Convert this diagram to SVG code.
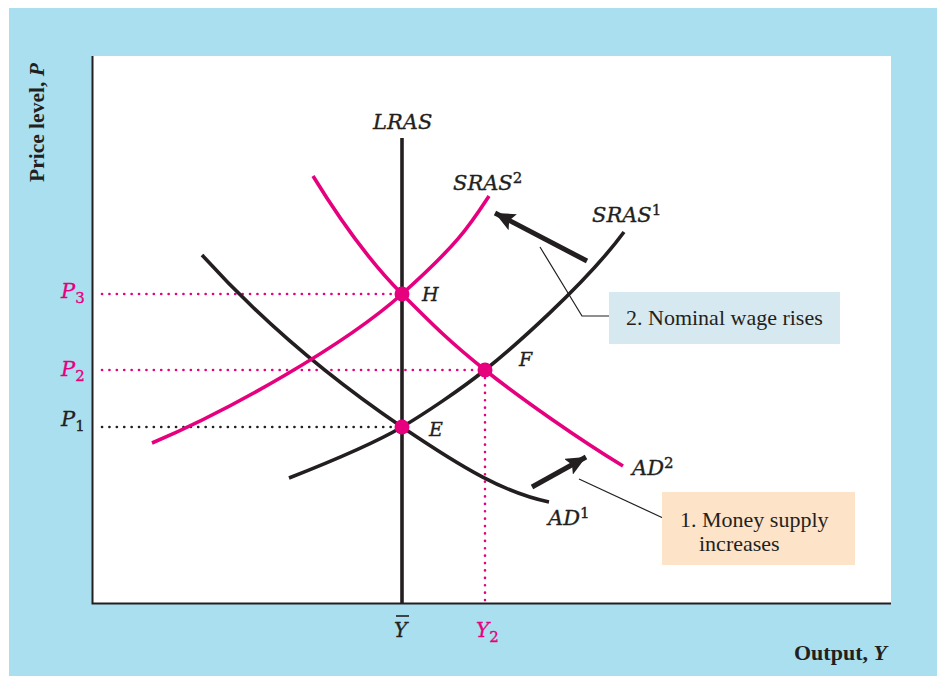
<svg xmlns="http://www.w3.org/2000/svg" width="937" height="676" viewBox="0 0 937 676">
<style>
.t{font-family:"Liberation Serif","DejaVu Serif",serif;fill:#231f20}
.v{font-family:"DejaVu Serif","Liberation Serif",serif;font-style:italic;fill:#231f20;stroke:#231f20;stroke-width:0.35}
.n{font-style:normal}
.i{font-style:italic}
.b{font-weight:bold}
.m{fill:#e6007e;stroke:#e6007e}
.curve{fill:none;stroke-width:3.6;stroke-linecap:butt}
.k{stroke:#231f20}
.mg{stroke:#e6007e}
.dot{stroke-width:2.6;stroke-dasharray:0.1 7.3;stroke-linecap:round;fill:none}
.lead{stroke:#231f20;stroke-width:1.2;fill:none}
</style>
<defs>
<marker id="ah" markerWidth="20" markerHeight="18" refX="20" refY="9" orient="auto" markerUnits="userSpaceOnUse" viewBox="0 0 20 18">
<path d="M0,0 L20,9 L0,18 L4,9 Z" fill="#231f20"/>
</marker>
</defs>
<rect x="9" y="8" width="928" height="668" fill="#aadfef"/>
<rect x="92" y="56" width="799" height="547" fill="#ffffff"/>
<g id="axes">
<path d="M92.5,56 V603.5 H891" fill="none" stroke="#231f20" stroke-width="2"/>
<text class="t b" font-size="21.5" transform="translate(44,182) rotate(-90)">Price level, <tspan class="i">P</tspan></text>
<text class="t b" x="794" y="660" font-size="22">Output, <tspan class="i">Y</tspan></text>
<text class="v" x="394" y="637" font-size="20">Y</text>
<line x1="396" y1="616" x2="409" y2="616" stroke="#231f20" stroke-width="1.6"/>
<text class="v m" x="476" y="637" font-size="20">Y<tspan class="n" font-size="15" dy="5">2</tspan></text>
<text class="v m" x="61" y="298" font-size="21">P<tspan class="n" font-size="15" dy="5">3</tspan></text>
<text class="v m" x="61" y="376" font-size="21">P<tspan class="n" font-size="15" dy="5">2</tspan></text>
<text class="v" x="61" y="426" font-size="21">P<tspan class="n" font-size="15" dy="5">1</tspan></text>
</g>
<g id="connectors">
<line class="dot mg" x1="102" y1="294" x2="400" y2="294"/>
<line class="dot mg" x1="102" y1="370" x2="482" y2="370"/>
<line class="dot k" x1="102" y1="427" x2="400" y2="427"/>
<line class="dot mg" x1="485" y1="378" x2="485" y2="603"/>
<path class="lead" d="M540,247 L582,316 L610,316"/>
<path class="lead" d="M579,479 L663,518"/>
<line x1="587" y1="261" x2="495" y2="213" stroke="#231f20" stroke-width="5" marker-end="url(#ah)"/>
<line x1="532" y1="487" x2="586" y2="457" stroke="#231f20" stroke-width="5" marker-end="url(#ah)"/>
</g>
<g id="LRAS">
<line x1="402" y1="138" x2="402" y2="603" stroke="#231f20" stroke-width="3.6"/>
<text class="v" x="373" y="129" font-size="21">LRAS</text>
</g>
<g id="SRAS1">
<path class="curve k" d="M289,478 C340,458 380,440 402,427 S460,390 485,370 S585,285 624,232"/>
<text class="v" x="592" y="222" font-size="21">SRAS<tspan class="n" font-size="15" dy="-7">1</tspan></text>
</g>
<g id="AD1">
<path class="curve k" d="M202,255 C270,330 340,385 402,427 S505,493 549,502"/>
<text class="v" x="548" y="525" font-size="21">AD<tspan class="n" font-size="15" dy="-7">1</tspan></text>
</g>
<g id="SRAS2">
<path class="curve mg" d="M152,443 C230,410 345,345 402,294 S470,225 489,196"/>
<text class="v" x="453" y="190" font-size="21">SRAS<tspan class="n" font-size="15" dy="-7">2</tspan></text>
</g>
<g id="AD2">
<path class="curve mg" d="M313,176 C340,220 370,262 402,294 S450,342 485,370 S580,440 623,466"/>
<text class="v" x="632" y="475" font-size="21">AD<tspan class="n" font-size="15" dy="-7">2</tspan></text>
</g>
<g id="H">
<circle cx="402" cy="294" r="7.5" fill="#e6007e"/>
<text class="v" x="422" y="301" font-size="19">H</text>
</g>
<g id="F">
<circle cx="485" cy="370" r="7.5" fill="#e6007e"/>
<text class="v" x="519" y="366" font-size="19">F</text>
</g>
<g id="E">
<circle cx="402" cy="427" r="7.5" fill="#e6007e"/>
<text class="v" x="429" y="436" font-size="19">E</text>
</g>
<g id="box2">
<rect x="609" y="292" width="231" height="52" fill="#d6e8f0"/>
<text class="t" x="626" y="325" font-size="22">2. Nominal wage rises</text>
</g>
<g id="box1">
<rect x="662" y="492" width="193" height="73" fill="#fde3c8"/>
<text class="t" x="680" y="527" font-size="22">1. Money supply</text>
<text class="t" x="699" y="551" font-size="22">increases</text>
</g>
</svg>
